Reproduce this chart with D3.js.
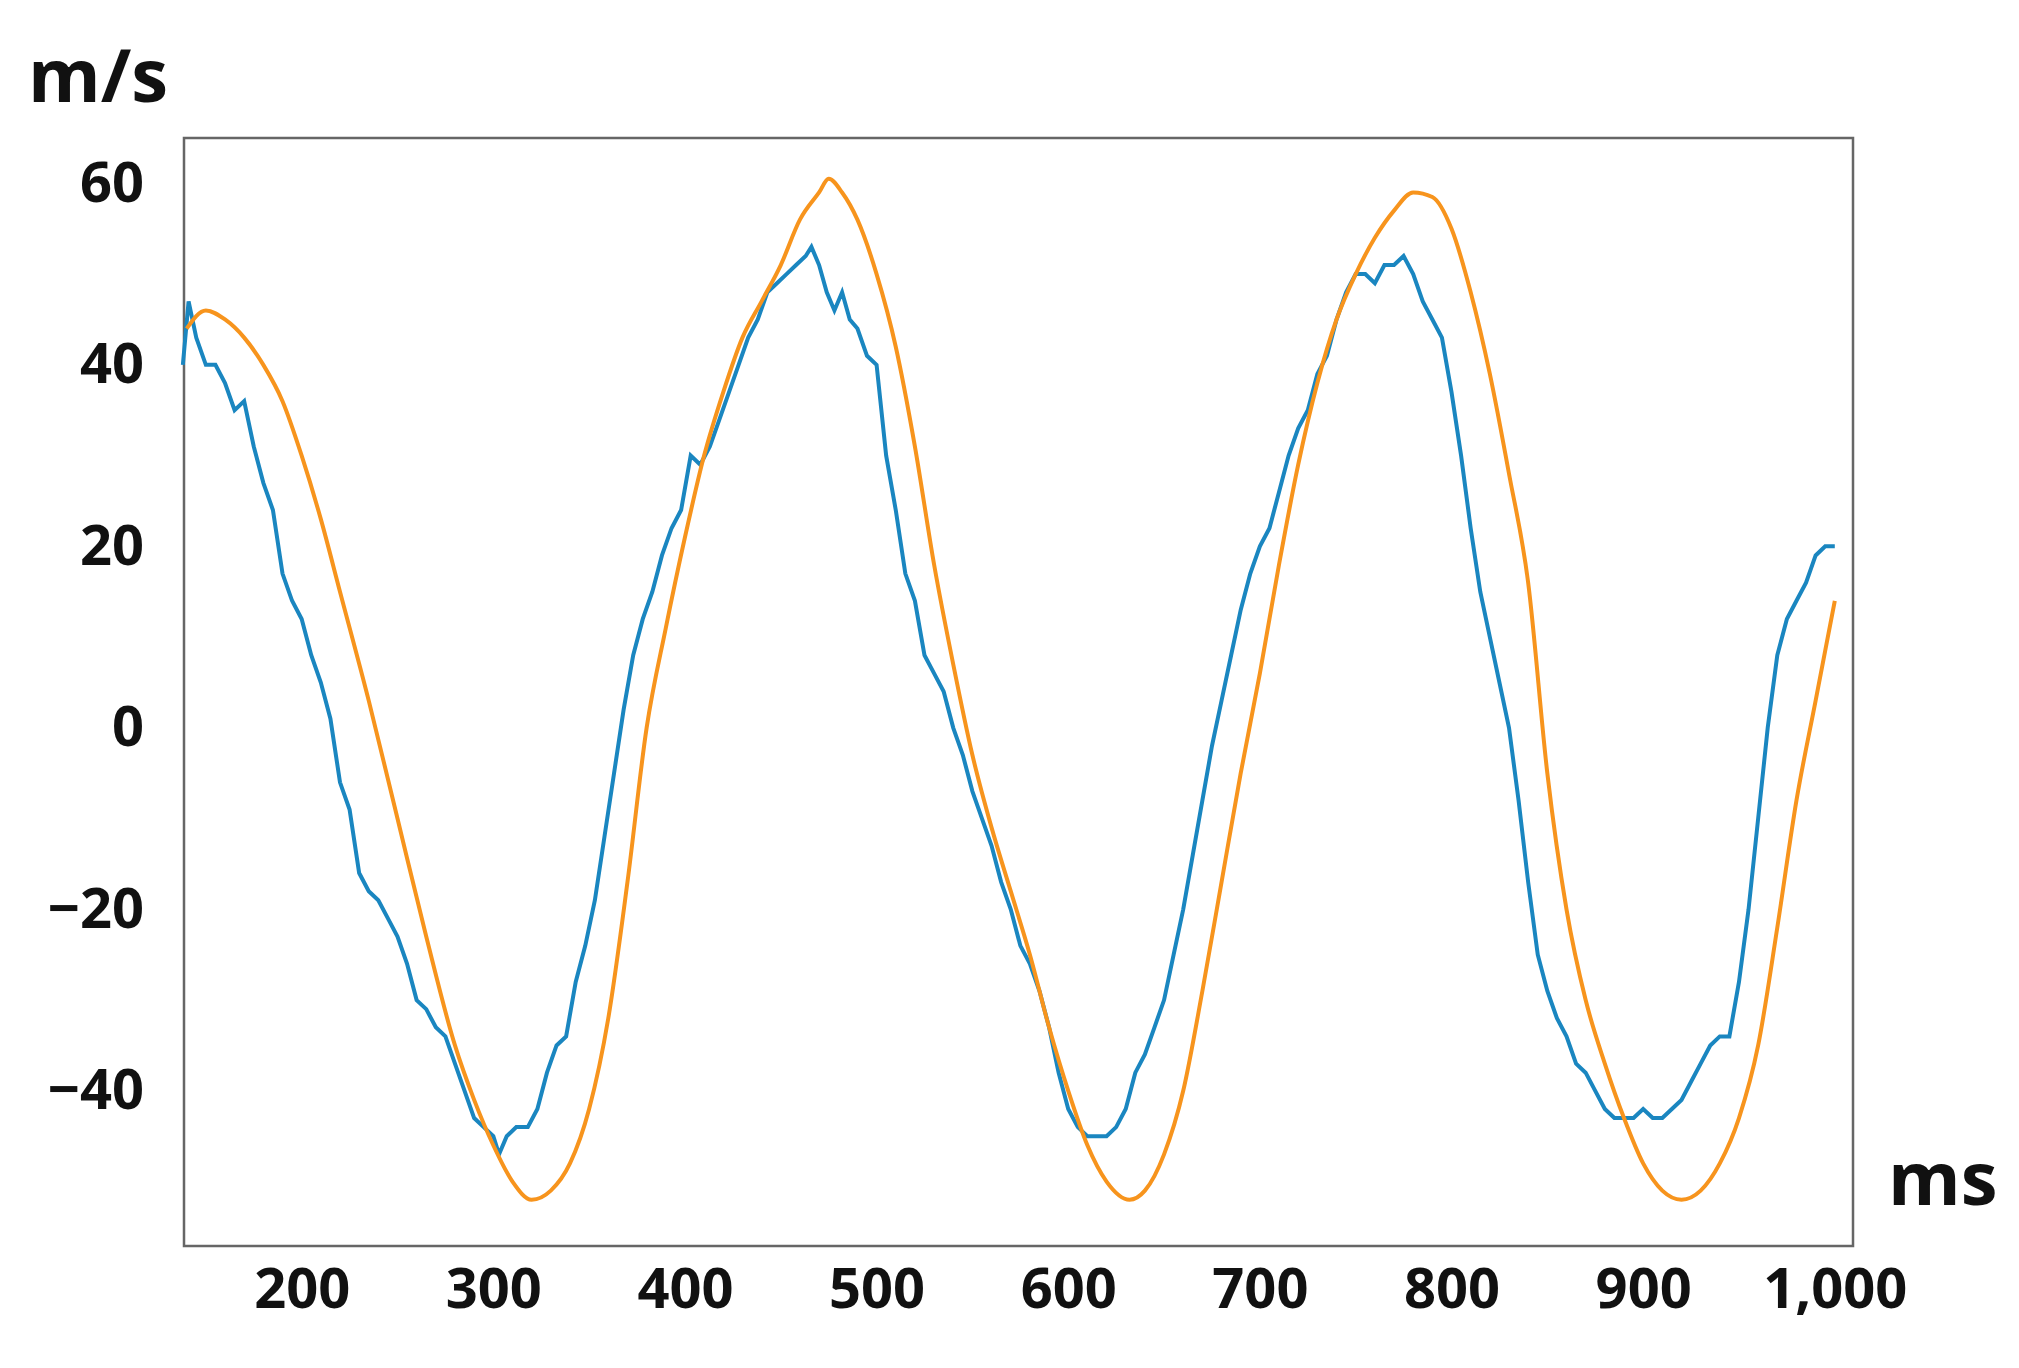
<!DOCTYPE html>
<html><head><meta charset="utf-8">
<script src="https://cdn.jsdelivr.net/npm/d3@7"></script>
<style>body{margin:0;background:#fff}</style>
</head><body>
<svg id="chart" width="2019" height="1368"></svg>
<script>
// orange: smooth model curve [ms, m/s]
var orangeX = [140,150,160,170,180,190,200,210,220,235,250,265,280,290,300,310,320,330,340,350,360,370,380,390,400,410,420,430,440,450,460,470,475,482,490,500,510,520,530,540,550,560,570,580,590,600,610,620,632,640,650,660,670,680,690,700,710,720,730,740,750,760,770,780,790,800,810,820,830,840,850,860,870,880,890,900,910,920,930,940,950,960,970,980,990,1000];
var orangeY = [44,46,45,43,40,36,30,23,15,3,-10,-23,-35,-41,-46,-50,-52,-51,-48,-42,-32,-17,0,11,21,30,37,43,47,51,56,59,60.5,59,56,50,42,31,18,7,-3,-11,-18,-25,-33,-40,-46,-50,-52,-51,-47,-40,-29,-17,-5,6,18,29,38,45,50,54,57,59,58.5,55,48,39,28,16,-5,-20,-30,-37,-43,-48,-51,-52,-51,-48,-43,-35,-22,-8,3,14];
// blue: measured signal [ms, m/s]
var blueX = [138,141,145,150,155,160,165,170,175,180,185,190,195,200,205,210,215,220,225,230,235,240,245,250,255,260,265,270,275,280,285,290,295,300,303,307,312,318,323,328,333,338,343,348,353,358,363,368,373,378,383,388,393,398,403,408,413,418,423,428,433,438,443,448,453,458,463,466,470,474,478,482,486,490,495,500,505,510,515,520,525,530,535,540,545,550,555,560,565,570,575,580,585,590,595,600,605,610,615,620,625,630,635,640,645,650,655,660,665,670,675,680,685,690,695,700,705,710,715,720,725,730,735,740,745,750,755,760,765,770,775,780,785,790,795,800,805,810,815,820,825,830,835,840,845,850,855,860,865,870,875,880,885,890,895,900,905,910,915,920,925,930,935,940,945,950,955,960,965,970,975,980,985,990,995,1000];
var blueY = [40,47,43,40,40,38,35,36,31,27,24,17,14,12,8,5,1,-6,-9,-16,-18,-19,-21,-23,-26,-30,-31,-33,-34,-37,-40,-43,-44,-45,-47,-45,-44,-44,-42,-38,-35,-34,-28,-24,-19,-12,-5,2,8,12,15,19,22,24,30,29,31,34,37,40,43,45,48,49,50,51,52,53,51,48,46,48,45,44,41,40,30,24,17,14,8,6,4,0,-3,-7,-10,-13,-17,-20,-24,-26,-29,-33,-38,-42,-44,-45,-45,-45,-44,-42,-38,-36,-33,-30,-25,-20,-14,-8,-2,3,8,13,17,20,22,26,30,33,35,39,41,45,48,50,50,49,51,51,52,50,47,45,43,37,30,22,15,10,5,0,-8,-17,-25,-29,-32,-34,-37,-38,-40,-42,-43,-43,-43,-42,-43,-43,-42,-41,-39,-37,-35,-34,-34,-28,-20,-10,0,8,12,14,16,19,20,20];
var xTicks = [200,300,400,500,600,700,800,900,1000];
var yTicks = [-40,-20,0,20,40,60];

var svg = d3.select("#chart");
var L = 184, R = 1853, T = 138, B = 1246;
var x = d3.scaleLinear().domain([138.6, 1009.5]).range([L, R]);
var y = d3.scaleLinear().domain([65, -57.1]).range([T, B]);
var font = "'Open Sans', sans-serif";

svg.append("rect").attr("x", L).attr("y", T).attr("width", R - L).attr("height", B - T)
  .attr("fill", "none").attr("stroke", "#666").attr("stroke-width", 2.5);

var xAxis = svg.append("g").attr("transform", "translate(0," + B + ")")
  .call(d3.axisBottom(x).tickValues(xTicks).tickSize(0).tickPadding(22));
var yAxis = svg.append("g").attr("transform", "translate(" + L + ",0)")
  .call(d3.axisLeft(y).tickValues(yTicks).tickSize(0).tickPadding(40));
[xAxis, yAxis].forEach(function(a){
  a.select(".domain").remove();
  a.selectAll("text").attr("font-family", font).attr("font-weight", "bold")
    .attr("font-size", 56).attr("fill", "#111");
});

function toPts(xs, ys){ return xs.map(function(d, i){ return [d, ys[i]]; }); }
var line = d3.line().x(function(d){ return x(d[0]); }).y(function(d){ return y(d[1]); });

svg.append("path").datum(toPts(blueX, blueY)).attr("d", line.curve(d3.curveLinear))
  .attr("fill", "none").attr("stroke", "#1a86c0").attr("stroke-width", 4);
svg.append("path").datum(toPts(orangeX, orangeY)).attr("d", line.curve(d3.curveMonotoneX))
  .attr("fill", "none").attr("stroke", "#f7941d").attr("stroke-width", 4);

svg.append("text").attr("x", 28).attr("y", 102).text("m/s")
  .attr("font-family", font).attr("font-weight", "bold").attr("font-size", 74).attr("fill", "#111");
svg.append("text").attr("x", 1888).attr("y", 1205).text("ms")
  .attr("font-family", font).attr("font-weight", "bold").attr("font-size", 74).attr("fill", "#111");
</script>
</body></html>
